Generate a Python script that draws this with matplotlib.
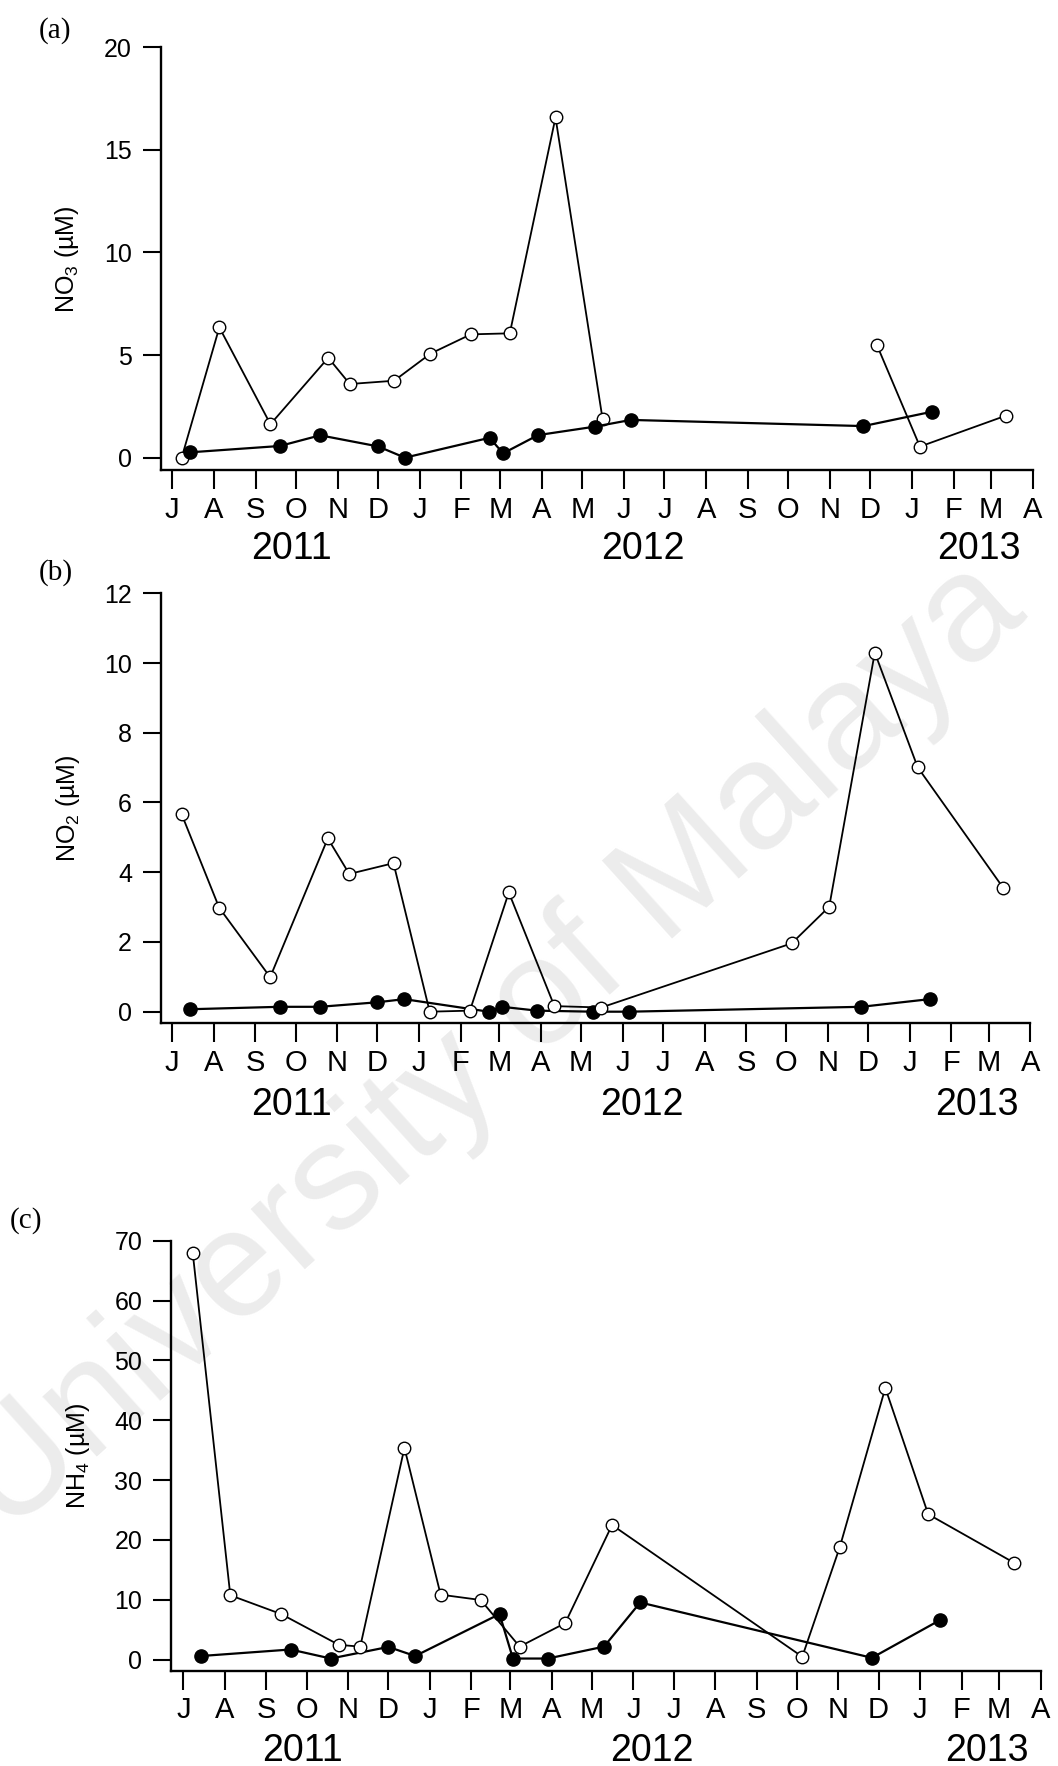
import numpy as np
import pandas as pd
import matplotlib
matplotlib.use("Agg")
import matplotlib.pyplot as plt

plt.rcParams["font.family"] = ["Liberation Sans", "DejaVu Sans"]
plt.rcParams["mathtext.fontset"] = "custom"
plt.rcParams["mathtext.rm"] = "Liberation Sans"

nan = np.nan

# Sampling dates
open_dates = ["2011-07-08", "2011-08-05", "2011-09-12", "2011-10-25", "2011-11-10",
              "2011-12-13", "2012-01-09", "2012-02-08", "2012-03-08", "2012-04-11",
              "2012-05-16", "2012-10-05", "2012-11-02", "2012-12-06", "2013-01-07",
              "2013-03-12"]
filled_dates = ["2011-07-14", "2011-09-19", "2011-10-19", "2011-12-01", "2011-12-21",
                "2012-02-22", "2012-03-03", "2012-03-29", "2012-05-10", "2012-06-06",
                "2012-11-26", "2013-01-16"]

# Nutrient concentrations (uM)
no3_open = [0.0, 6.35, 1.63, 4.87, 3.59, 3.75, 5.07, 6.01, 6.06, 16.58, 1.88,
            nan, nan, 5.49, 0.54, 2.05]
no3_filled = [0.26, 0.57, 1.09, 0.55, 0.0, 0.97, 0.21, 1.10, 1.51, 1.84, 1.54, 2.24]

no2_open = [5.66, 2.98, 0.99, 4.97, 3.95, 4.26, 0.0, 0.03, 3.42, 0.16, 0.12,
            1.96, 3.01, 10.30, 7.01, 3.54]
no2_filled = [0.07, 0.14, 0.14, 0.27, 0.36, 0.0, 0.14, 0.03, 0.0, 0.0, 0.14, 0.36]

nh4_open = [67.9, 10.75, 7.61, 2.47, 2.17, 35.4, 10.86, 9.96, 2.17, 6.1, 22.5,
            0.48, 18.8, 45.4, 24.3, 16.2]
nh4_filled = [0.6, 1.69, 0.18, 2.12, 0.6, 7.61, 0.18, 0.18, 2.17, 9.55, 0.3, 6.63]

ylabels = [r"NO$_\mathregular{3}$ (µM)", r"NO$_\mathregular{2}$ (µM)",
           r"NH$_\mathregular{4}$ (µM)"]
panel_tags = ["(a)", "(b)", "(c)"]
year_labels = ["2011", "2012", "2013"]
yticks_list = [[0, 5, 10, 15, 20], [0, 2, 4, 6, 8, 10, 12],
               [0, 10, 20, 30, 40, 50, 60, 70]]

month_starts = pd.date_range("2011-07-01", "2013-04-01", freq="MS")
month_letters = [d.strftime("%b")[0] for d in month_starts]

W, H = 1058, 1766
fig = plt.figure(figsize=(W / 100, H / 100), dpi=100)

# layout of each panel in pixels: left, right, top, bottom, days before Jul 1, ymin
layouts = [
    dict(box=(160.7, 1032.9, 47.3, 470.4), lead=8.6, ymin=-0.62, tag=(38.5, 38), yoff=64,
         filled_on_top=True),
    dict(box=(160.7, 1030.3, 593.3, 1023.3), lead=8.65, ymin=-0.333, tag=(38.5, 580), yoff=66,
         filled_on_top=False),
    dict(box=(171.1, 1040.7, 1240.8, 1671.1), lead=9.2, ymin=-1.92, tag=(10, 1228), yoff=65,
         filled_on_top=False),
]
open_series = [no3_open, no2_open, nh4_open]
filled_series = [no3_filled, no2_filled, nh4_filled]
year_pos = ["2011-09-28", "2012-06-15", "2013-02-20"]

od = pd.to_datetime(open_dates)
fd = pd.to_datetime(filled_dates)
x_start = pd.Timestamp("2011-07-01")
x_end = pd.Timestamp("2013-04-01")

for i, lay in enumerate(layouts):
    l, r, t, b = lay["box"]
    ax = fig.add_axes([l / W, 1 - b / H, (r - l) / W, (b - t) / H])
    ax.patch.set_visible(False)
    zo_open, zo_fill = (2, 3) if lay["filled_on_top"] else (3, 2)
    ax.plot(od, open_series[i], "-o", color="black", lw=1.3, ms=9, mfc="white",
            mec="black", mew=1.0, zorder=zo_open, clip_on=False)
    ax.plot(fd, filled_series[i], "-o", color="black", lw=1.6, ms=9.5, mfc="black",
            mec="black", zorder=zo_fill, clip_on=False)

    yt = yticks_list[i]
    ax.set_ylim(lay["ymin"], yt[-1])
    ax.set_yticks(yt)
    ax.set_xlim(x_start - pd.Timedelta(days=lay["lead"]), x_end)
    ax.set_xticks(month_starts)
    ax.set_xticklabels(month_letters)

    for s in ("top", "right"):
        ax.spines[s].set_visible(False)
    for s in ("left", "bottom"):
        ax.spines[s].set_linewidth(1.7)
    ax.tick_params(axis="x", length=13.7, width=1.5, pad=4.5, labelsize=21)
    ax.tick_params(axis="y", length=13, width=1.5, pad=7.7, labelsize=18)

    ax.set_ylabel(ylabels[i], fontsize=18)
    ax.yaxis.label.set_va("center")
    ax.yaxis.set_label_coords(-0.107, 0.5)

    for yl, yp in zip(year_labels, year_pos):
        ax.annotate(yl, xy=(pd.Timestamp(yp), 0), xycoords=("data", "axes fraction"),
                    xytext=(0, -lay["yoff"]), textcoords="offset points",
                    ha="center", va="baseline", fontsize=27, annotation_clip=False)

    tx, ty = lay["tag"]
    fig.text(tx / W, 1 - ty / H, panel_tags[i], fontsize=21, va="baseline", ha="left",
             family=["Liberation Serif", "DejaVu Serif"])

fig.text(492 / W, 1 - 1048 / H, "University of Malaya", rotation=42, rotation_mode="anchor",
         ha="center", va="center", fontsize=110, color="#ececec", zorder=-1)

fig.savefig("out.png", dpi=100, facecolor="white")
